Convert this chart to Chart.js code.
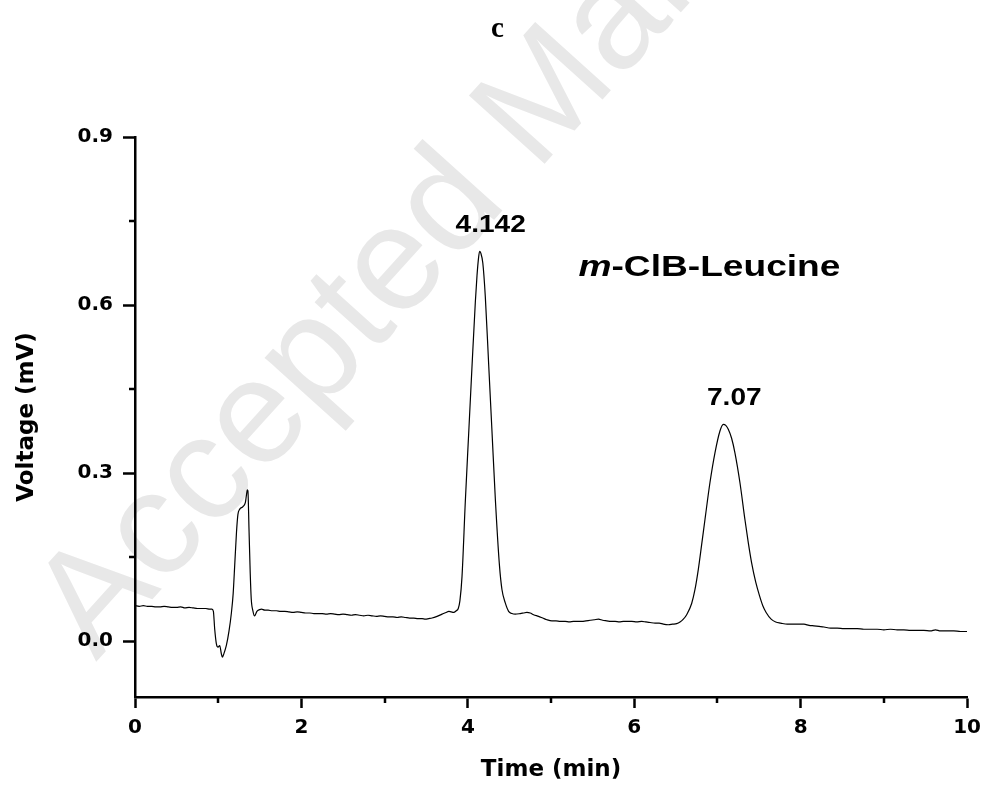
<!DOCTYPE html>
<html>
<head>
<meta charset="utf-8">
<title>m-ClB-Leucine</title>
<script src="https://cdn.jsdelivr.net/npm/chart.js@4.4.1/dist/chart.umd.min.js"></script>
<style>
  html, body { margin: 0; padding: 0; background: #fff; }
  #wrap { width: 989px; height: 789px; position: relative; }
</style>
</head>
<body>
<div id="wrap"><canvas id="chromChart"></canvas></div>
<script>
// retention time (min) and detector signal (mV)
const timeMin = [
  0.00, 0.05, 0.10, 0.15, 0.20, 0.25, 0.30, 0.35, 0.40, 0.45, 0.50, 0.55, 0.60, 0.65, 0.70, 0.75, 0.80, 0.85, 0.90, 0.925,
  0.942, 0.958, 0.978, 0.998, 1.018, 1.038, 1.05, 1.065, 1.098, 1.13, 1.159, 1.18, 1.20, 1.22, 1.237, 1.257, 1.297, 1.326, 1.338, 1.35,
  1.357, 1.37, 1.385, 1.397, 1.417, 1.437, 1.465, 1.497, 1.52, 1.56, 1.60, 1.65, 1.70, 1.75, 1.80, 1.85, 1.90, 1.95, 2.00,
  2.05, 2.10, 2.15, 2.20, 2.25, 2.30, 2.35, 2.40, 2.45, 2.50, 2.55, 2.60, 2.65, 2.70, 2.75, 2.80, 2.85, 2.90, 2.95, 3.00,
  3.05, 3.10, 3.15, 3.20, 3.25, 3.30, 3.35, 3.40, 3.45, 3.49, 3.53, 3.57, 3.63, 3.69, 3.74, 3.77, 3.80, 3.83, 3.86, 3.885,
  3.905, 3.93, 3.97, 4.01, 4.05, 4.09, 4.11, 4.13, 4.142, 4.155, 4.18, 4.21, 4.25, 4.29, 4.33, 4.38, 4.41, 4.45, 4.49, 4.53,
  4.57, 4.63, 4.67, 4.71, 4.75, 4.79, 4.85, 4.90, 4.95, 5.01, 5.06, 5.11, 5.17, 5.22, 5.27, 5.32, 5.37, 5.42, 5.47, 5.52,
  5.57, 5.62, 5.67, 5.72, 5.77, 5.82, 5.87, 5.92, 5.97, 6.03, 6.09, 6.14, 6.19, 6.25, 6.30, 6.35, 6.41, 6.46, 6.51, 6.55,
  6.59, 6.63, 6.69, 6.73, 6.77, 6.81, 6.85, 6.91, 6.97, 7.03, 7.07, 7.10, 7.13, 7.17, 7.21, 7.27, 7.33, 7.37, 7.41, 7.46,
  7.505, 7.545, 7.585, 7.645, 7.70, 7.76, 7.84, 7.90, 7.96, 8.04, 8.10, 8.16, 8.22, 8.28, 8.36, 8.44, 8.52, 8.60, 8.68, 8.76,
  8.84, 8.92, 9.00, 9.08, 9.16, 9.24, 9.32, 9.40, 9.48, 9.56, 9.62, 9.68, 9.76, 9.84, 9.92, 10.00
];
const voltageMv = [
  0.063, 0.062, 0.063, 0.062, 0.062, 0.061, 0.061, 0.062, 0.061, 0.060, 0.060, 0.061, 0.059, 0.060, 0.059, 0.058, 0.058, 0.058, 0.057, 0.057,
  0.053, 0.021, -0.005, -0.011, -0.008, -0.023, -0.029, -0.024, -0.008, 0.018, 0.051, 0.085, 0.140, 0.195, 0.226, 0.235, 0.240, 0.247, 0.259, 0.270,
  0.268, 0.200, 0.120, 0.075, 0.054, 0.045, 0.053, 0.056, 0.057, 0.055, 0.055, 0.054, 0.054, 0.053, 0.053, 0.052, 0.051, 0.052, 0.051,
  0.050, 0.050, 0.049, 0.049, 0.049, 0.048, 0.049, 0.048, 0.047, 0.048, 0.047, 0.046, 0.047, 0.046, 0.045, 0.046, 0.045, 0.044, 0.045, 0.044,
  0.043, 0.043, 0.042, 0.043, 0.042, 0.041, 0.041, 0.040, 0.040, 0.039, 0.040, 0.041, 0.044, 0.048, 0.051, 0.053, 0.052, 0.051, 0.054, 0.058,
  0.072, 0.115, 0.250, 0.370, 0.490, 0.605, 0.652, 0.686, 0.696, 0.693, 0.675, 0.615, 0.495, 0.375, 0.255, 0.135, 0.092, 0.068, 0.053, 0.049,
  0.048, 0.049, 0.050, 0.051, 0.050, 0.047, 0.044, 0.041, 0.038, 0.036, 0.036, 0.035, 0.035, 0.034, 0.035, 0.035, 0.035, 0.036, 0.037, 0.038,
  0.039, 0.037, 0.036, 0.035, 0.035, 0.034, 0.035, 0.035, 0.035, 0.034, 0.035, 0.034, 0.033, 0.032, 0.032, 0.030, 0.029, 0.030, 0.031, 0.034,
  0.039, 0.047, 0.067, 0.092, 0.128, 0.172, 0.217, 0.283, 0.336, 0.375, 0.387, 0.385, 0.378, 0.362, 0.336, 0.283, 0.217, 0.176, 0.140, 0.105,
  0.081, 0.063, 0.051, 0.039, 0.034, 0.032, 0.030, 0.030, 0.030, 0.030, 0.028, 0.027, 0.026, 0.025, 0.023, 0.023, 0.022, 0.022, 0.022, 0.021,
  0.021, 0.021, 0.020, 0.021, 0.020, 0.020, 0.019, 0.019, 0.019, 0.018, 0.020, 0.018, 0.018, 0.018, 0.017, 0.017
];

const xMajorTicks = [0, 2, 4, 6, 8, 10];
const xMinorTicks = [1, 3, 5, 7, 9];
const yMajorTicks = [0.0, 0.3, 0.6, 0.9];
const yMinorTicks = [0.15, 0.45, 0.75];

// labelled peaks (retention times)
const peakTimes = [4.142, 7.07];
const peakLabels = ['4.142', '7.07'];

const points = timeMin.map((t, i) => ({ x: t, y: voltageMv[i] }));

Chart.defaults.font.family = 'DejaVu Sans';
Chart.defaults.color = '#000';

const tickFont = { family: 'DejaVu Sans', weight: 'bold', size: 20 };
const titleFont = { family: 'DejaVu Sans', weight: 'bold', size: 23 };

// draw text stretched horizontally
function stretchText(ctx, text, x, y, font, sx, align) {
  ctx.save();
  ctx.translate(x, y);
  ctx.scale(sx, 1);
  ctx.font = font;
  ctx.textAlign = align;
  ctx.textBaseline = 'alphabetic';
  ctx.fillText(text, 0, 0);
  ctx.restore();
}

const watermark = {
  id: 'watermark',
  beforeDraw(chart) {
    const ctx = chart.ctx;
    ctx.save();
    ctx.translate(96, 662);
    ctx.rotate(-48 * Math.PI / 180);
    ctx.font = '148px "Liberation Sans"';
    ctx.fillStyle = '#e8e8e8';
    ctx.fillText('Accepted Manuscript', 0, 0);
    ctx.restore();
  }
};

const minorTicks = {
  id: 'minorTicks',
  afterDraw(chart) {
    const ctx = chart.ctx;
    const xs = chart.scales.x, ys = chart.scales.y;
    const area = chart.chartArea;
    ctx.save();
    ctx.strokeStyle = '#000';
    ctx.lineWidth = 2.5;
    ctx.beginPath();
    xMinorTicks.forEach(v => {
      const px = Math.round(xs.getPixelForValue(v));
      ctx.moveTo(px, area.bottom);
      ctx.lineTo(px, area.bottom + 6);
    });
    yMinorTicks.forEach(v => {
      const py = Math.round(ys.getPixelForValue(v));
      ctx.moveTo(area.left, py);
      ctx.lineTo(area.left - 6, py);
    });
    ctx.stroke();
    ctx.restore();
  }
};

const annotations = {
  id: 'annotations',
  afterDraw(chart) {
    const ctx = chart.ctx;
    const xs = chart.scales.x, ys = chart.scales.y;
    ctx.save();
    ctx.fillStyle = '#000';

    // panel letter
    ctx.font = 'bold 29px "Liberation Serif"';
    ctx.textAlign = 'center';
    ctx.fillText('c', chart.width / 2 + 3, 37);

    // retention time above each peak
    peakTimes.forEach((t, i) => {
      const h = voltageMv[timeMin.indexOf(t)];
      const px = xs.getPixelForValue(t) + 11;
      const py = ys.getPixelForValue(h) - 19;
      stretchText(ctx, peakLabels[i], px, py, 'bold 23px "Liberation Sans"', 1.22, 'center');
    });

    // compound name, italic "m" prefix
    const nx = xs.getPixelForValue(5.33);
    const ny = ys.getPixelForValue(0.652);
    const sx = 1.28;
    ctx.font = 'italic bold 29px "Liberation Sans"';
    const mW = ctx.measureText('m').width * sx;
    stretchText(ctx, 'm', nx, ny, 'italic bold 29px "Liberation Sans"', sx, 'left');
    stretchText(ctx, '-ClB-Leucine', nx + mW, ny, 'bold 29px "Liberation Sans"', sx, 'left');
    ctx.restore();
  }
};

new Chart(document.getElementById('chromChart'), {
  type: 'line',
  data: {
    datasets: [{
      data: points,
      borderColor: '#000',
      borderWidth: 1.2,
      pointRadius: 0,
      fill: false,
      cubicInterpolationMode: 'monotone'
    }]
  },
  options: {
    responsive: true,
    maintainAspectRatio: false,
    animation: false,
    events: [],
    layout: { padding: { top: 137, right: 19, bottom: 0, left: 0 } },
    plugins: {
      legend: { display: false },
      tooltip: { enabled: false }
    },
    scales: {
      x: {
        type: 'linear',
        min: 0,
        max: 10,
        afterBuildTicks: s => { s.ticks = xMajorTicks.map(v => ({ value: v })); },
        afterFit: s => { s.height = 92; },
        ticks: { font: tickFont, color: '#000', padding: 8, maxRotation: 0, autoSkip: false,
                 callback: v => String(v) },
        grid: { drawOnChartArea: false, tickLength: 11, tickWidth: 2.5, tickColor: '#000' },
        border: { color: '#000', width: 2.5 },
        title: { display: true, text: 'Time (min)', font: titleFont, color: '#000',
                 padding: { top: 0, bottom: 5 } }
      },
      y: {
        type: 'linear',
        min: -0.1,
        max: 0.9,
        afterBuildTicks: s => { s.ticks = yMajorTicks.map(v => ({ value: v })); },
        afterFit: s => { s.width = 135; },
        ticks: { font: tickFont, color: '#000', padding: 10,
                 callback: v => v.toFixed(1) },
        grid: { drawOnChartArea: false, tickLength: 12, tickWidth: 2.5, tickColor: '#000' },
        border: { color: '#000', width: 2.5 },
        title: { display: true, text: 'Voltage (mV)', font: titleFont, color: '#000',
                 padding: { top: 13, bottom: 0 } }
      }
    }
  },
  plugins: [watermark, minorTicks, annotations]
});
</script>
</body>
</html>
